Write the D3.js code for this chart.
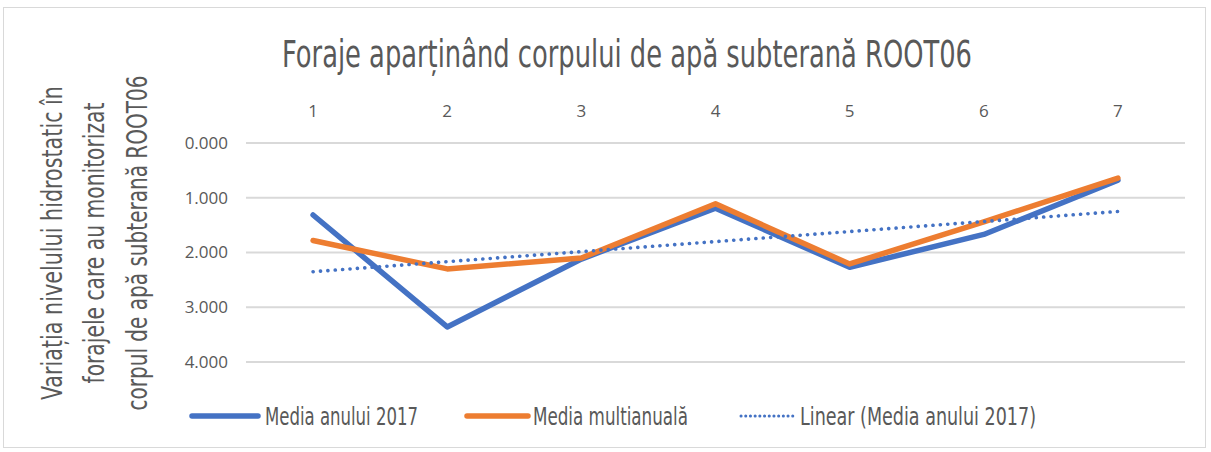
<!DOCTYPE html>
<html>
<head>
<meta charset="utf-8">
<script src="https://cdn.jsdelivr.net/npm/d3@7"></script>
<style>
  html, body { margin: 0; padding: 0; background: #fff; }
  svg { display: block; }
  .narrow { font-family: "DejaVu Sans Condensed", "Liberation Sans Narrow", "DejaVu Sans", sans-serif; font-stretch: condensed; }
</style>
</head>
<body>
<svg id="chart" width="1211" height="452"></svg>
<script>
// Well IDs (category axis) and the two yearly series, in metres
const categories = ["1", "2", "3", "4", "5", "6", "7"];
const media2017 = [1.315, 3.36, 2.12, 1.19, 2.27, 1.67, 0.68];
const mediaMulti = [1.78, 2.30, 2.10, 1.11, 2.21, 1.44, 0.64];
const yTicks = [0, 1, 2, 3, 4];
const legendLabels = ["Media anului 2017", "Media multianuală", "Linear (Media anului 2017)"];
const titleText = "Foraje aparținând corpului de apă subterană ROOT06";
const yTitleLines = [
  "Variația nivelului hidrostatic în",
  "forajele care au monitorizat",
  "corpul de apă subterană ROOT06"
];

const W = 1211, H = 452;
const margin = { left: 246, right: 1185, top: 143, bottom: 362 };
const blue = "#4472C4", orange = "#ED7D31";
const textGrey = "#595959";

const svg = d3.select("#chart");

// chart frame
svg.append("rect")
  .attr("x", 3.5).attr("y", 7.5)
  .attr("width", W - 9).attr("height", H - 12)
  .attr("fill", "#fff").attr("stroke", "#d9d9d9").attr("stroke-width", 1);

const x = d3.scaleBand().domain(categories).range([margin.left, margin.right]);
const y = d3.scaleLinear().domain([0, 4]).range([margin.top, margin.bottom]); // reversed: 0 on top
const cx = c => x(c) + x.bandwidth() / 2;

// gridlines
svg.append("g").selectAll("line").data(yTicks).join("line")
  .attr("x1", margin.left).attr("x2", margin.right)
  .attr("y1", d => y(d)).attr("y2", d => y(d))
  .attr("stroke", "#d9d9d9").attr("stroke-width", 2);

// y tick labels
const yAxis = d3.axisLeft(y).tickValues(yTicks).tickFormat(d3.format(".3f")).tickSize(0).tickPadding(18);
const gy = svg.append("g").attr("transform", `translate(${margin.left},0)`).call(yAxis);
gy.select(".domain").remove();
gy.selectAll("text")
  .attr("fill", textGrey)
  .style("font-family", "'Open Sans', 'Noto Sans', sans-serif")
  .style("font-size", "17px");

// category labels on top
const xAxis = d3.axisTop(x).tickSize(0).tickPadding(26);
const gx = svg.append("g").attr("transform", `translate(0,${margin.top})`).call(xAxis);
gx.select(".domain").remove();
gx.selectAll("text")
  .attr("fill", textGrey)
  .style("font-family", "'Open Sans', 'Noto Sans', sans-serif")
  .style("font-size", "17px");

// linear trendline of the 2017 series (least squares)
const xs = categories.map((c, i) => i + 1);
const mx = d3.mean(xs), my = d3.mean(media2017);
const slope = d3.sum(xs, (v, i) => (v - mx) * (media2017[i] - my)) / d3.sum(xs, v => (v - mx) ** 2);
const intercept = my - slope * mx;
const trend = categories.map((c, i) => intercept + slope * (i + 1));

const line = d3.line().x((d, i) => cx(categories[i])).y(d => y(d));

svg.append("path").datum(media2017)
  .attr("d", line).attr("fill", "none")
  .attr("stroke", blue).attr("stroke-width", 5.5)
  .attr("stroke-linejoin", "round").attr("stroke-linecap", "round");

svg.append("path").datum(mediaMulti)
  .attr("d", line).attr("fill", "none")
  .attr("stroke", orange).attr("stroke-width", 5.5)
  .attr("stroke-linejoin", "round").attr("stroke-linecap", "round");

svg.append("path").datum(trend)
  .attr("d", line).attr("fill", "none")
  .attr("stroke", blue).attr("stroke-width", 3.6)
  .attr("stroke-dasharray", "0.1 7.3").attr("stroke-linecap", "round");

// title
svg.append("text")
  .attr("class", "narrow")
  .attr("x", 627).attr("y", 67)
  .attr("text-anchor", "middle")
  .attr("fill", textGrey)
  .style("font-size", "37px")
  .attr("textLength", 690).attr("lengthAdjust", "spacingAndGlyphs")
  .text(titleText);

// rotated y-axis title, three lines
const yTitleX = [52, 94, 137];
const yTitleLen = [314, 281, 335];
yTitleLines.forEach((t, i) => {
  svg.append("text")
    .attr("class", "narrow")
    .attr("transform", `translate(${yTitleX[i] + 10},243) rotate(-90)`)
    .attr("text-anchor", "middle")
    .attr("fill", textGrey)
    .style("font-size", "28px")
    .attr("textLength", yTitleLen[i]).attr("lengthAdjust", "spacingAndGlyphs")
    .text(t);
});

// legend
const legendY = 416;
const legendItems = [
  { label: legendLabels[0], color: blue, x0: 192, x1: 258, tx: 265, tl: 153, width: 5.5, dash: null },
  { label: legendLabels[1], color: orange, x0: 467, x1: 528, tx: 533, tl: 155, width: 5.5, dash: null },
  { label: legendLabels[2], color: blue, x0: 741, x1: 793, tx: 800, tl: 236, width: 3, dash: "0.1 4.6" }
];
const lg = svg.append("g");
legendItems.forEach(d => {
  lg.append("line")
    .attr("x1", d.x0).attr("x2", d.x1).attr("y1", legendY).attr("y2", legendY)
    .attr("stroke", d.color).attr("stroke-width", d.width)
    .attr("stroke-linecap", "round")
    .attr("stroke-dasharray", d.dash);
  lg.append("text")
    .attr("class", "narrow")
    .attr("x", d.tx).attr("y", legendY + 9)
    .attr("fill", textGrey)
    .style("font-size", "25px")
    .attr("textLength", d.tl).attr("lengthAdjust", "spacingAndGlyphs")
    .text(d.label);
});
</script>
</body>
</html>
